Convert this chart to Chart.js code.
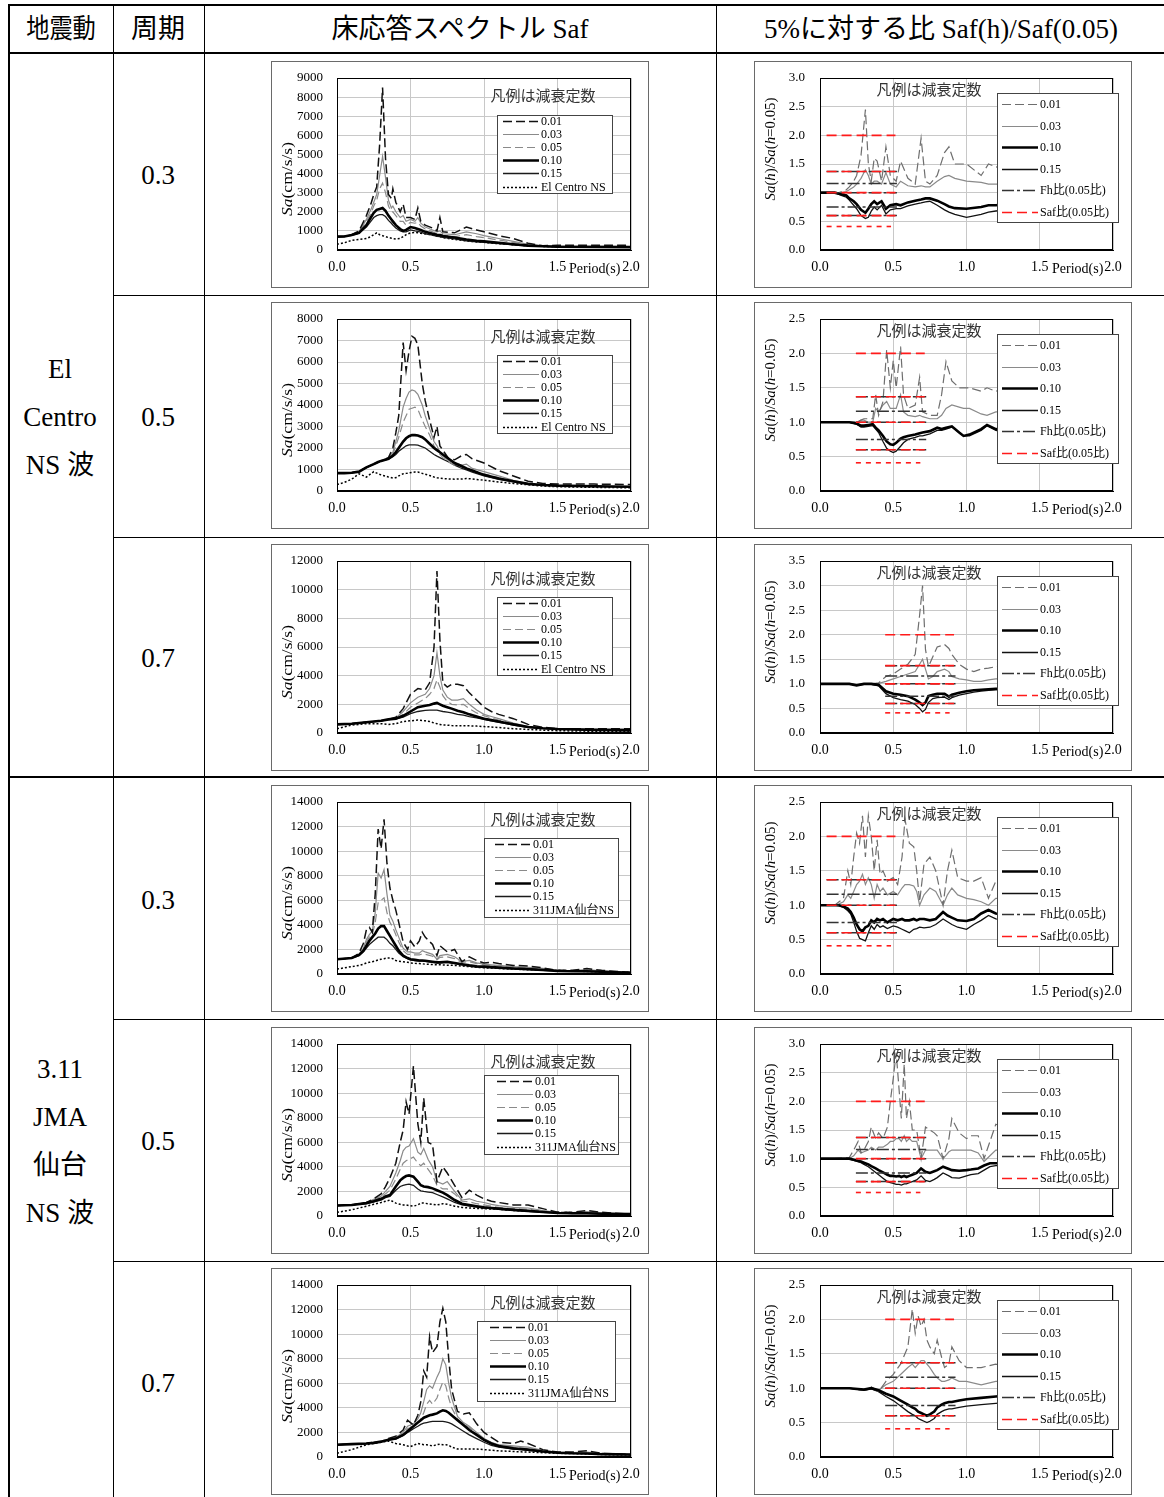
<!DOCTYPE html>
<html lang="ja">
<head>
<meta charset="utf-8">
<title>床応答スペクトル</title>
<script src="https://cdn.jsdelivr.net/npm/chart.js@4.4.1/dist/chart.umd.min.js"></script>
<style>
  html, body { margin: 0; padding: 0; background: #fff; }
  body { position: relative; width: 1164px; height: 1497px; overflow: hidden;
         font-family: "Liberation Serif", "Noto Sans CJK JP", serif; color: #000; }
  .rule { position: absolute; background: #000; }
  .cell { position: absolute; transform: translate(-50%, -50%); white-space: nowrap; font-size: 27px; line-height: 1; }
  canvas { position: absolute; }
</style>
</head>
<body>
<!-- table rules -->
<div class="rule" style="left:8px;top:4px;width:1156px;height:2px"></div>
<div class="rule" style="left:8px;top:52px;width:1156px;height:2px"></div>
<div class="rule" style="left:8px;top:4px;width:2px;height:1493px"></div>
<div class="rule" style="left:113px;top:4px;width:1px;height:1493px"></div>
<div class="rule" style="left:204px;top:4px;width:1px;height:1493px"></div>
<div class="rule" style="left:716px;top:4px;width:1px;height:1493px"></div>
<div class="rule" style="left:113px;top:295px;width:1051px;height:1px"></div>
<div class="rule" style="left:113px;top:537px;width:1051px;height:1px"></div>
<div class="rule" style="left:8px;top:776px;width:1156px;height:2px"></div>
<div class="rule" style="left:113px;top:1019px;width:1051px;height:1px"></div>
<div class="rule" style="left:113px;top:1261px;width:1051px;height:1px"></div>

<!-- header -->
<div class="cell" style="left:61px;top:29px;transform:translate(-50%,-50%) scaleX(0.86)">地震動</div>
<div class="cell" style="left:158px;top:29px">周期</div>
<div class="cell" style="left:460px;top:29px">床応答スペクトル Saf</div>
<div class="cell" style="left:941px;top:29px">5%に対する比 Saf(h)/Saf(0.05)</div>

<!-- earthquake column -->
<div class="cell" style="left:60px;top:369px">El</div>
<div class="cell" style="left:60px;top:417px">Centro</div>
<div class="cell" style="left:60px;top:465px">NS 波</div>
<div class="cell" style="left:60px;top:1069px">3.11</div>
<div class="cell" style="left:60px;top:1117px">JMA</div>
<div class="cell" style="left:60px;top:1165px">仙台</div>
<div class="cell" style="left:60px;top:1213px">NS 波</div>

<!-- period column -->
<div class="cell" style="left:158px;top:175px">0.3</div>
<div class="cell" style="left:158px;top:417px">0.5</div>
<div class="cell" style="left:158px;top:658px">0.7</div>
<div class="cell" style="left:158px;top:900px">0.3</div>
<div class="cell" style="left:158px;top:1141px">0.5</div>
<div class="cell" style="left:158px;top:1383px">0.7</div>

<script>
// ---- common labels / levels ----
const periodTicks = [0, 0.5, 1.0, 1.5, 2.0];
const dampingLabels = ['0.01', '0.03', '0.05', '0.10', '0.15'];
const ratioLabels = ['0.01', '0.03', '0.10', '0.15', 'Fh比(0.05比)', 'Saf比(0.05比)'];
const targetPeriods = [0.3, 0.5, 0.7];
const fhLevels = [1.37, 1.16, 1.0, 0.75, 0.6];
const safLevels = [2.0, 1.37, 1.0, 0.6, 0.41];

// ---- El Centro NS, T=0.3 : floor spectrum ----
const tEc03 = [0, 0.05, 0.1, 0.15, 0.2, 0.23, 0.25, 0.27, 0.29, 0.31, 0.33, 0.35, 0.37, 0.38, 0.4, 0.43, 0.45, 0.47, 0.5, 0.53, 0.55, 0.57, 0.6, 0.65, 0.68, 0.7, 0.72, 0.8, 0.88, 0.95, 1.0, 1.1, 1.2, 1.3, 1.4, 1.5, 1.75, 2.0];
const sEc03_01 = [700, 710, 800, 1000, 1800, 2400, 2900, 3300, 5500, 8500, 4800, 2900, 2700, 3200, 2500, 2000, 2400, 1700, 1700, 1600, 2200, 1500, 1300, 1150, 1000, 1700, 950, 900, 1200, 1050, 950, 750, 600, 350, 220, 250, 250, 250];
const sEc03_03 = [700, 710, 800, 950, 1600, 2100, 2500, 2900, 3900, 4900, 3800, 2600, 2200, 2300, 2000, 1700, 1800, 1500, 1600, 1500, 1700, 1400, 1200, 1050, 950, 1000, 850, 800, 950, 850, 750, 600, 450, 300, 200, 200, 200, 180];
const sEc03_05 = [700, 710, 800, 950, 1500, 1900, 2300, 2600, 3200, 3500, 3000, 2300, 2000, 2000, 1800, 1500, 1500, 1300, 1450, 1400, 1450, 1250, 1100, 950, 850, 850, 780, 700, 800, 700, 650, 520, 400, 280, 200, 180, 180, 170];
const sEc03_10 = [700, 710, 780, 900, 1300, 1700, 1950, 2100, 2150, 2200, 2050, 1800, 1600, 1500, 1300, 1100, 1000, 1050, 1200, 1150, 1100, 1050, 950, 850, 800, 780, 730, 650, 550, 480, 450, 380, 300, 230, 200, 170, 160, 150];
const sEc03_15 = [700, 710, 770, 880, 1200, 1500, 1700, 1800, 1850, 1850, 1750, 1550, 1400, 1300, 1150, 1000, 950, 950, 1050, 1000, 980, 930, 850, 780, 720, 700, 660, 580, 480, 420, 400, 340, 270, 220, 190, 170, 150, 140];
const gEc03 = [300, 380, 500, 550, 600, 700, 800, 900, 800, 750, 700, 650, 620, 600, 580, 600, 700, 800, 900, 920, 900, 870, 850, 780, 720, 700, 650, 550, 480, 420, 400, 330, 280, 220, 190, 170, 150, 150];

// ---- El Centro NS, T=0.3 : ratio ----
const tEcR03 = [0, 0.1, 0.13, 0.15, 0.18, 0.2, 0.23, 0.25, 0.28, 0.31, 0.33, 0.35, 0.37, 0.39, 0.42, 0.45, 0.48, 0.52, 0.55, 0.6, 0.65, 0.69, 0.72, 0.75, 0.8, 0.85, 0.88, 0.92, 1.0, 1.1, 1.15, 1.2, 1.3, 1.5, 2.0];
const rEc03_01 = [1, 1, 1, 1.02, 1.05, 1.1, 1.2, 1.3, 1.65, 2.45, 1.5, 1.2, 1.6, 1.55, 1.2, 1.8, 1.3, 1.2, 1.55, 1.25, 1.15, 1.95, 1.2, 1.15, 1.3, 1.7, 1.8, 1.5, 1.5, 1.3, 1.5, 1.45, 1.4, 1.4, 1.3];
const rEc03_03 = [1, 1, 1, 1, 1.02, 1.05, 1.1, 1.15, 1.25, 1.4, 1.3, 1.15, 1.2, 1.2, 1.15, 1.35, 1.15, 1.1, 1.2, 1.12, 1.1, 1.12, 1.1, 1.1, 1.2, 1.28, 1.3, 1.25, 1.2, 1.18, 1.15, 1.15, 1.15, 1.15, 1.1];
const rEc03_10 = [1, 1, 0.98, 0.97, 0.95, 0.9, 0.85, 0.8, 0.7, 0.65, 0.72, 0.8, 0.85, 0.8, 0.85, 0.72, 0.78, 0.8, 0.78, 0.83, 0.86, 0.88, 0.9, 0.9, 0.86, 0.8, 0.76, 0.73, 0.72, 0.75, 0.78, 0.78, 0.8, 0.8, 0.82];
const rEc03_15 = [1, 1, 0.97, 0.95, 0.92, 0.87, 0.78, 0.72, 0.6, 0.55, 0.57, 0.68, 0.75, 0.7, 0.78, 0.63, 0.7, 0.72, 0.72, 0.77, 0.8, 0.82, 0.84, 0.85, 0.78, 0.7, 0.66, 0.62, 0.57, 0.62, 0.66, 0.68, 0.7, 0.72, 0.75];

// ---- El Centro NS, T=0.5 ----
const tEc05 = [0, 0.05, 0.1, 0.15, 0.2, 0.25, 0.28, 0.3, 0.35, 0.38, 0.4, 0.42, 0.45, 0.47, 0.49, 0.51, 0.53, 0.55, 0.58, 0.6, 0.63, 0.66, 0.68, 0.7, 0.72, 0.76, 0.8, 0.85, 0.88, 0.92, 1.0, 1.1, 1.2, 1.3, 1.4, 1.5, 1.75, 2.0];
const sEc05_01 = [830, 830, 850, 900, 1100, 1250, 1350, 1400, 1550, 2000, 2700, 3500, 6900, 5600, 6500, 7200, 7100, 6800, 5000, 4200, 3300, 2500, 3000, 2100, 1900, 1500, 1450, 1650, 1700, 1500, 1300, 950, 700, 450, 350, 320, 320, 300];
const sEc05_03 = [830, 830, 850, 900, 1100, 1250, 1350, 1400, 1550, 1800, 2300, 2800, 3900, 4300, 4600, 4700, 4650, 4500, 4000, 3500, 2900, 2300, 2100, 1800, 1650, 1400, 1300, 1200, 1250, 1050, 900, 700, 500, 350, 280, 250, 220, 200];
const sEc05_05 = [830, 830, 850, 900, 1100, 1250, 1350, 1400, 1500, 1700, 2100, 2500, 3200, 3500, 3800, 3850, 3900, 3800, 3300, 3000, 2600, 2100, 1900, 1700, 1550, 1350, 1200, 1100, 1100, 950, 800, 620, 450, 320, 260, 230, 210, 200];
const sEc05_10 = [830, 830, 850, 900, 1100, 1250, 1350, 1400, 1500, 1650, 1800, 2000, 2300, 2450, 2550, 2600, 2600, 2580, 2500, 2400, 2200, 2000, 1900, 1800, 1700, 1500, 1300, 1150, 1050, 950, 750, 580, 450, 330, 280, 250, 220, 200];
const sEc05_15 = [830, 830, 850, 900, 1100, 1250, 1350, 1400, 1480, 1600, 1700, 1850, 2000, 2100, 2150, 2150, 2150, 2130, 2050, 2000, 1850, 1700, 1620, 1550, 1480, 1350, 1200, 1050, 980, 880, 700, 540, 420, 320, 270, 240, 210, 190];
const gEc05 = [300, 400, 550, 800, 650, 900, 800, 750, 650, 600, 620, 700, 800, 820, 840, 860, 880, 880, 820, 780, 720, 650, 620, 600, 580, 560, 550, 560, 580, 560, 500, 420, 350, 290, 230, 200, 170, 150];

const tEcR05 = [0, 0.1, 0.2, 0.25, 0.28, 0.3, 0.33, 0.36, 0.38, 0.4, 0.43, 0.455, 0.48, 0.5, 0.52, 0.55, 0.57, 0.6, 0.65, 0.68, 0.7, 0.75, 0.8, 0.83, 0.86, 0.9, 0.95, 0.98, 1.02, 1.1, 1.14, 1.2, 1.3, 1.5, 2.0];
const rEc05_01 = [1, 1, 1, 1.0, 1.03, 1.05, 1.05, 1.05, 1.4, 1.1, 1.3, 2.05, 1.5, 1.9, 1.5, 2.1, 1.4, 1.2, 1.25, 1.65, 1.15, 1.1, 1.1, 1.4, 1.88, 1.6, 1.5, 1.5, 1.5, 1.45, 1.5, 1.45, 1.5, 1.45, 1.4];
const rEc05_03 = [1, 1, 1, 1.0, 1.03, 1.03, 1.0, 1.0, 1.2, 1.15, 1.25, 1.3, 1.2, 1.2, 1.2, 1.4, 1.15, 1.1, 1.08, 1.1, 1.08, 1.05, 1.05, 1.1, 1.2, 1.25, 1.22, 1.2, 1.2, 1.12, 1.1, 1.15, 1.15, 1.15, 1.1];
const rEc05_10 = [1, 1, 1, 0.98, 0.95, 0.95, 0.96, 0.97, 0.92, 0.88, 0.8, 0.72, 0.68, 0.67, 0.7, 0.76, 0.78, 0.8, 0.82, 0.84, 0.85, 0.87, 0.92, 0.9, 0.92, 0.94, 0.85, 0.8, 0.82, 0.9, 0.96, 0.9, 0.85, 0.88, 0.9];
const rEc05_15 = [1, 1, 1, 0.97, 0.93, 0.93, 0.94, 0.95, 0.9, 0.85, 0.72, 0.62, 0.58, 0.56, 0.58, 0.65, 0.7, 0.75, 0.78, 0.8, 0.8, 0.83, 0.88, 0.88, 0.9, 0.93, 0.85, 0.8, 0.8, 0.88, 0.95, 0.88, 0.84, 0.86, 0.88];

// ---- El Centro NS, T=0.7 ----
const tEc07 = [0, 0.1, 0.2, 0.3, 0.35, 0.4, 0.45, 0.5, 0.55, 0.6, 0.63, 0.66, 0.68, 0.7, 0.72, 0.75, 0.78, 0.82, 0.86, 0.9, 0.95, 1.0, 1.05, 1.1, 1.15, 1.2, 1.3, 1.4, 1.5, 1.75, 2.0];
const sEc07_01 = [600, 650, 750, 850, 950, 1100, 1700, 2700, 3100, 3000, 3500, 6000, 11300, 6500, 3500, 3200, 3400, 3400, 3300, 2800, 2300, 1800, 1500, 1300, 1150, 1000, 600, 400, 300, 300, 300];
const sEc07_03 = [600, 650, 750, 850, 950, 1050, 1500, 2100, 2500, 2700, 3100, 4000, 5600, 4000, 3000, 2500, 2300, 2300, 2400, 2000, 1600, 1300, 1150, 1000, 850, 700, 450, 350, 300, 250, 250];
const sEc07_05 = [600, 650, 750, 850, 950, 1000, 1300, 1800, 2100, 2400, 2700, 3100, 3700, 3200, 2600, 2200, 2000, 1950, 2000, 1700, 1400, 1200, 1050, 900, 780, 650, 420, 330, 280, 220, 200];
const sEc07_10 = [600, 650, 750, 850, 950, 1000, 1200, 1500, 1800, 1900, 1950, 2050, 2100, 2000, 1900, 1800, 1700, 1550, 1450, 1300, 1150, 1000, 900, 800, 700, 600, 420, 330, 280, 220, 200];
const sEc07_15 = [600, 650, 750, 850, 930, 980, 1100, 1350, 1500, 1580, 1600, 1600, 1600, 1550, 1500, 1450, 1400, 1300, 1250, 1150, 1050, 950, 850, 750, 650, 550, 400, 320, 270, 200, 150];
const gEc07 = [300, 550, 650, 650, 600, 650, 800, 850, 900, 850, 800, 700, 650, 600, 550, 550, 520, 500, 500, 500, 480, 450, 420, 380, 340, 300, 250, 200, 160, 120, 100];

const tEcR07 = [0, 0.1, 0.2, 0.25, 0.3, 0.35, 0.4, 0.45, 0.5, 0.55, 0.6, 0.65, 0.68, 0.7, 0.72, 0.74, 0.77, 0.8, 0.85, 0.88, 0.9, 0.95, 1.0, 1.05, 1.1, 1.15, 1.2, 1.3, 1.5, 2.0];
const rEc07_01 = [1, 1, 1, 0.98, 1.0, 1.0, 1.02, 1.15, 1.2, 1.3, 1.4, 1.6, 2.4, 3.0, 1.7, 1.35, 1.55, 1.75, 1.8, 1.72, 1.6, 1.4, 1.3, 1.25, 1.3, 1.32, 1.35, 1.35, 1.35, 1.3];
const rEc07_03 = [1, 1, 1, 0.98, 1.0, 1.0, 1.01, 1.05, 1.1, 1.15, 1.2, 1.25, 1.4, 1.5, 1.3, 1.1, 1.15, 1.25, 1.3, 1.25, 1.15, 1.1, 1.08, 1.05, 1.05, 1.08, 1.1, 1.1, 1.1, 1.1];
const rEc07_10 = [1, 1, 1, 0.97, 1.0, 1.0, 0.98, 0.85, 0.8, 0.78, 0.75, 0.68, 0.62, 0.57, 0.62, 0.75, 0.78, 0.8, 0.8, 0.74, 0.78, 0.82, 0.85, 0.87, 0.88, 0.89, 0.9, 0.9, 0.92, 0.93];
const rEc07_15 = [1, 1, 1, 0.97, 0.99, 0.99, 0.96, 0.8, 0.72, 0.68, 0.65, 0.58, 0.5, 0.43, 0.48, 0.62, 0.7, 0.72, 0.73, 0.68, 0.72, 0.77, 0.8, 0.83, 0.85, 0.87, 0.88, 0.89, 0.9, 0.92];

// ---- 3.11 JMA Sendai NS, T=0.3 ----
const tJm03 = [0, 0.1, 0.15, 0.18, 0.2, 0.22, 0.24, 0.26, 0.28, 0.3, 0.32, 0.34, 0.36, 0.38, 0.4, 0.42, 0.45, 0.48, 0.5, 0.53, 0.56, 0.58, 0.6, 0.65, 0.68, 0.7, 0.75, 0.8, 0.85, 0.9, 0.95, 1.0, 1.05, 1.1, 1.2, 1.3, 1.4, 1.5, 1.6, 1.7, 1.8, 2.0];
const sJm03_01 = [1200, 1300, 1700, 2500, 3600, 3800, 3400, 6500, 11800, 10200, 12600, 9000, 7000, 6000, 5200, 4200, 2600, 2000, 2700, 2200, 2700, 3400, 3000, 2400, 1500, 2300, 1800, 2000, 1000, 1400, 1100, 900, 950, 850, 700, 650, 500, 300, 300, 450, 300, 120];
const sJm03_03 = [1200, 1300, 1600, 2100, 2800, 3200, 3500, 5000, 8200, 7800, 8500, 6500, 4800, 4300, 3600, 3000, 2100, 1800, 1800, 1700, 1700, 1900, 1800, 1600, 1200, 1500, 1600, 1400, 1000, 1100, 900, 800, 750, 700, 600, 550, 450, 300, 280, 350, 250, 120];
const sJm03_05 = [1200, 1300, 1600, 2000, 2600, 3000, 3200, 4200, 5800, 6000, 6200, 5000, 4200, 3800, 3200, 2600, 1900, 1600, 1600, 1550, 1550, 1650, 1600, 1450, 1150, 1350, 1400, 1250, 950, 1000, 850, 750, 700, 650, 550, 500, 400, 300, 260, 300, 220, 110];
const sJm03_10 = [1200, 1300, 1550, 1900, 2300, 2700, 3000, 3300, 3700, 3900, 3900, 3500, 3100, 2700, 2300, 1900, 1500, 1300, 1200, 1150, 1100, 1100, 1080, 1000, 950, 950, 1000, 900, 800, 700, 620, 600, 560, 520, 450, 400, 330, 250, 220, 220, 180, 100];
const sJm03_15 = [1200, 1300, 1500, 1800, 2100, 2400, 2600, 2800, 3000, 3000, 3000, 2800, 2500, 2300, 2000, 1700, 1400, 1250, 1150, 1100, 1050, 1050, 1020, 950, 900, 900, 950, 850, 750, 650, 580, 550, 520, 480, 420, 370, 300, 250, 210, 200, 170, 100];
const gJm03 = [400, 600, 700, 800, 900, 950, 1000, 1050, 1150, 1200, 1250, 1300, 1300, 1250, 1100, 1050, 1000, 950, 900, 870, 850, 830, 800, 770, 750, 750, 720, 700, 650, 600, 550, 500, 480, 450, 400, 350, 320, 300, 250, 200, 180, 150];

const tJmR03 = [0, 0.1, 0.13, 0.16, 0.19, 0.21, 0.23, 0.25, 0.27, 0.29, 0.31, 0.33, 0.35, 0.37, 0.39, 0.41, 0.43, 0.46, 0.5, 0.53, 0.56, 0.58, 0.61, 0.64, 0.66, 0.68, 0.71, 0.75, 0.79, 0.84, 0.87, 0.9, 0.94, 1.0, 1.05, 1.1, 1.15, 1.2, 1.3, 1.5, 2.0];
const rJm03_01 = [1, 1, 1.05, 1.1, 1.5, 1.3, 1.7, 2.05, 1.9, 2.3, 1.7, 2.3, 2.0, 1.5, 1.95, 1.45, 1.5, 1.35, 1.4, 1.3, 1.7, 2.25, 1.9, 1.85, 1.5, 1.05, 1.6, 1.7, 1.5, 1.0, 1.5, 1.8, 1.4, 1.35, 1.35, 1.4, 1.1, 1.35, 1.3, 1.3, 1.3];
const rJm03_03 = [1, 1, 1.02, 1.05, 1.15, 1.1, 1.2, 1.3, 1.35, 1.45, 1.3, 1.4, 1.3, 1.1, 1.3, 1.2, 1.25, 1.15, 1.2, 1.15, 1.25, 1.3, 1.3, 1.28, 1.2, 1.0, 1.15, 1.25, 1.2, 1.0, 1.15, 1.25, 1.15, 1.1, 1.08, 1.05, 1.0, 1.1, 1.1, 1.1, 1.1];
const rJm03_10 = [1, 1, 1.0, 0.98, 0.95, 0.9, 0.82, 0.72, 0.65, 0.62, 0.68, 0.7, 0.78, 0.75, 0.8, 0.78, 0.8, 0.75, 0.8, 0.78, 0.8, 0.78, 0.78, 0.8, 0.78, 0.8, 0.8, 0.78, 0.8, 0.9, 0.85, 0.82, 0.78, 0.77, 0.8, 0.88, 0.93, 0.88, 0.85, 0.85, 0.85];
const rJm03_15 = [1, 1, 0.99, 0.97, 0.92, 0.87, 0.75, 0.62, 0.52, 0.5, 0.48, 0.6, 0.7, 0.65, 0.72, 0.68, 0.7, 0.66, 0.7, 0.68, 0.65, 0.63, 0.6, 0.65, 0.66, 0.68, 0.67, 0.68, 0.72, 0.8, 0.76, 0.72, 0.68, 0.65, 0.72, 0.78, 0.85, 0.8, 0.78, 0.78, 0.78];

// ---- 3.11 JMA Sendai NS, T=0.5 ----
const tJm05 = [0, 0.1, 0.2, 0.25, 0.3, 0.33, 0.36, 0.4, 0.43, 0.45, 0.47, 0.49, 0.52, 0.55, 0.57, 0.59, 0.62, 0.65, 0.68, 0.72, 0.75, 0.8, 0.85, 0.9, 0.95, 1.0, 1.05, 1.1, 1.2, 1.3, 1.4, 1.5, 1.6, 1.7, 1.8, 2.0];
const sJm05_01 = [850, 900, 1100, 1400, 1800, 2400, 3100, 4300, 6000, 7000, 9300, 8300, 12200, 7500, 6000, 9600, 6000, 5800, 2800, 4000, 3500, 2500, 1500, 2100, 1700, 1400, 1200, 1100, 900, 900, 600, 300, 300, 450, 300, 150];
const sJm05_03 = [850, 900, 1100, 1350, 1600, 2000, 2400, 3500, 4500, 5300, 5600, 5700, 6300, 5200, 5000, 5500, 4600, 4000, 2800, 2600, 2800, 2000, 1300, 1400, 1200, 1100, 950, 850, 700, 650, 450, 300, 280, 350, 250, 150];
const sJm05_05 = [850, 900, 1100, 1300, 1500, 1800, 2100, 3000, 3800, 4300, 4500, 4600, 4800, 4300, 4100, 4300, 3800, 3300, 2500, 2200, 2200, 1800, 1200, 1150, 1000, 900, 800, 700, 600, 550, 400, 300, 260, 300, 220, 140];
const sJm05_10 = [850, 900, 1050, 1200, 1400, 1600, 1700, 2400, 2900, 3100, 3250, 3300, 3200, 2800, 2500, 2400, 2350, 2250, 2100, 1900, 1700, 1300, 1000, 900, 800, 700, 650, 600, 500, 420, 330, 250, 220, 220, 180, 150];
const sJm05_15 = [850, 900, 1000, 1150, 1300, 1500, 1600, 2100, 2400, 2500, 2550, 2600, 2500, 2200, 2050, 2000, 1950, 1900, 1750, 1550, 1400, 1100, 900, 800, 720, 650, 600, 550, 450, 380, 300, 250, 200, 200, 170, 130];
const gJm05 = [300, 500, 800, 950, 1100, 1200, 1300, 1050, 950, 900, 900, 850, 800, 900, 1050, 1050, 1000, 950, 900, 1000, 950, 800, 700, 650, 620, 600, 570, 550, 450, 400, 350, 300, 270, 250, 200, 150];

const tJmR05 = [0, 0.1, 0.2, 0.23, 0.26, 0.28, 0.3, 0.33, 0.35, 0.38, 0.4, 0.43, 0.46, 0.48, 0.5, 0.52, 0.54, 0.555, 0.575, 0.59, 0.61, 0.63, 0.66, 0.69, 0.72, 0.75, 0.78, 0.8, 0.84, 0.88, 0.9, 0.95, 1.0, 1.03, 1.08, 1.12, 1.16, 1.2, 1.3, 1.5, 2.0];
const rJm05_01 = [1, 1, 1.02, 1.15, 1.3, 1.1, 1.15, 1.3, 1.55, 1.35, 1.45, 1.35, 1.55, 2.0, 2.4, 2.85, 2.2, 1.7, 2.65, 1.7, 2.0, 1.5, 1.5, 1.0, 1.55, 1.5, 1.45, 1.4, 1.0, 1.35, 1.7, 1.45, 1.35, 1.4, 1.4, 1.0, 1.3, 1.6, 1.5, 1.5, 1.4];
const rJm05_03 = [1, 1, 1.0, 1.05, 1.15, 1.1, 1.12, 1.15, 1.2, 1.15, 1.2, 1.2, 1.25, 1.3, 1.3, 1.35, 1.35, 1.3, 1.4, 1.3, 1.35, 1.3, 1.3, 1.0, 1.15, 1.15, 1.15, 1.15, 1.0, 1.12, 1.15, 1.15, 1.15, 1.15, 1.1, 0.95, 1.05, 1.15, 1.15, 1.15, 1.1];
const rJm05_10 = [1, 1, 1.0, 0.98, 0.96, 0.95, 0.93, 0.9, 0.87, 0.83, 0.8, 0.76, 0.72, 0.7, 0.7, 0.69, 0.7, 0.68, 0.7, 0.68, 0.7, 0.72, 0.75, 0.83, 0.77, 0.75, 0.78, 0.8, 0.86, 0.82, 0.8, 0.79, 0.8, 0.81, 0.83, 0.88, 0.92, 0.92, 0.92, 0.93, 0.94];
const rJm05_15 = [1, 1, 0.99, 0.97, 0.95, 0.93, 0.9, 0.86, 0.82, 0.76, 0.72, 0.66, 0.6, 0.58, 0.57, 0.55, 0.55, 0.54, 0.56, 0.56, 0.58, 0.6, 0.63, 0.7, 0.62, 0.6, 0.64, 0.67, 0.75, 0.7, 0.67, 0.66, 0.7, 0.72, 0.74, 0.8, 0.86, 0.88, 0.88, 0.9, 0.92];

// ---- 3.11 JMA Sendai NS, T=0.7 ----
const tJm07 = [0, 0.1, 0.2, 0.25, 0.3, 0.35, 0.4, 0.45, 0.48, 0.5, 0.52, 0.55, 0.57, 0.59, 0.61, 0.63, 0.65, 0.68, 0.7, 0.72, 0.74, 0.76, 0.78, 0.82, 0.86, 0.9, 0.95, 1.0, 1.05, 1.1, 1.2, 1.25, 1.3, 1.4, 1.5, 1.6, 1.7, 1.8, 2.0];
const sJm07_01 = [1000, 1050, 1100, 1200, 1250, 1500, 1700, 2200, 3000, 2800, 2600, 3400, 4500, 7000, 6500, 9800, 8500, 9000, 11000, 12100, 11000, 8000, 5500, 3700, 3500, 3600, 2700, 2000, 1600, 1200, 1100, 1300, 1100, 600, 400, 400, 500, 300, 200];
const sJm07_03 = [1000, 1050, 1100, 1200, 1250, 1450, 1600, 2000, 2500, 2600, 2700, 3100, 3600, 4500, 5500, 5800, 5600, 6500, 7000, 8000, 7500, 6000, 4800, 3300, 2800, 2500, 2000, 1500, 1200, 1000, 900, 850, 800, 550, 400, 350, 400, 250, 200];
const sJm07_05 = [1000, 1050, 1100, 1200, 1250, 1400, 1550, 1900, 2300, 2400, 2500, 2800, 3100, 3600, 4300, 4600, 4300, 4800, 5500, 6100, 5800, 4800, 4000, 3100, 2700, 2400, 1900, 1400, 1100, 900, 800, 750, 700, 500, 380, 330, 350, 230, 200];
const sJm07_10 = [1000, 1050, 1100, 1150, 1250, 1400, 1500, 1800, 2100, 2300, 2500, 2800, 3000, 3200, 3300, 3400, 3450, 3550, 3700, 3800, 3750, 3600, 3400, 3000, 2600, 2200, 1800, 1400, 1100, 900, 700, 650, 600, 450, 350, 300, 280, 230, 200];
const sJm07_15 = [1000, 1050, 1100, 1150, 1250, 1380, 1480, 1750, 2000, 2150, 2300, 2500, 2650, 2750, 2800, 2850, 2900, 2900, 2900, 2900, 2850, 2800, 2700, 2400, 2100, 1800, 1500, 1200, 950, 800, 650, 600, 550, 430, 350, 300, 270, 220, 180];
const gJm07 = [300, 600, 1000, 1100, 1200, 1300, 1100, 1000, 900, 850, 950, 1100, 1050, 1000, 1000, 950, 900, 1000, 1050, 1000, 1000, 950, 800, 650, 650, 650, 650, 600, 550, 500, 450, 420, 400, 350, 300, 280, 250, 200, 150];

const tJmR07 = [0, 0.1, 0.2, 0.3, 0.35, 0.4, 0.45, 0.5, 0.55, 0.6, 0.63, 0.65, 0.67, 0.69, 0.71, 0.73, 0.75, 0.78, 0.8, 0.83, 0.85, 0.88, 0.9, 0.95, 1.0, 1.1, 1.2, 1.3, 1.5, 2.0];
const rJm07_01 = [1, 1, 1.0, 0.97, 1.02, 0.95, 1.1, 1.2, 1.35, 1.6, 2.15, 1.8, 2.05, 1.9, 2.0, 1.7, 1.6, 1.5, 1.7, 1.45, 1.3, 1.35, 1.6, 1.4, 1.3, 1.3, 1.35, 1.3, 1.3, 1.3];
const rJm07_03 = [1, 1, 1.0, 0.97, 1.01, 0.97, 1.05, 1.1, 1.2, 1.3, 1.35, 1.3, 1.35, 1.4, 1.4, 1.35, 1.3, 1.2, 1.15, 1.1, 1.1, 1.12, 1.15, 1.1, 1.1, 1.05, 1.1, 1.1, 1.1, 1.1];
const rJm07_10 = [1, 1, 1.0, 0.98, 1.0, 0.97, 0.92, 0.88, 0.82, 0.76, 0.72, 0.7, 0.66, 0.64, 0.62, 0.6, 0.62, 0.66, 0.72, 0.76, 0.78, 0.8, 0.8, 0.82, 0.84, 0.86, 0.88, 0.9, 0.9, 0.92];
const rJm07_15 = [1, 1, 1.0, 0.97, 0.99, 0.95, 0.88, 0.82, 0.74, 0.66, 0.62, 0.6, 0.56, 0.54, 0.52, 0.5, 0.52, 0.56, 0.62, 0.66, 0.68, 0.7, 0.7, 0.72, 0.74, 0.76, 0.78, 0.8, 0.82, 0.85];

// ---- layout ----
const FRAME_W = 378, FRAME_H = 227;
const PLOT_LEFT = 66, PLOT_TOP = 17, PLOT_BOTTOM = 189;
const rowTops = [61, 302, 544, 785, 1027, 1268];
const SERIF = '"Liberation Serif", "Noto Sans CJK JP", serif';

Chart.defaults.font.family = SERIF;
Chart.defaults.color = '#000';

const specStyles = [
  { color: '#111', width: 1.5, dash: [9, 4] },     // 0.01
  { color: '#8a8a8a', width: 1.2, dash: [] },      // 0.03
  { color: '#8a8a8a', width: 1.2, dash: [8, 4] },  // 0.05
  { color: '#000', width: 2.6, dash: [] },         // 0.10
  { color: '#1a1a1a', width: 1.3, dash: [] },      // 0.15
  { color: '#000', width: 1.5, dash: [2, 2] }      // input wave
];
const ratioStyles = [
  { color: '#6e6e6e', width: 1.2, dash: [9, 4] },
  { color: '#8a8a8a', width: 1.2, dash: [] },
  { color: '#000', width: 2.6, dash: [] },
  { color: '#111', width: 1.3, dash: [] },
  { color: '#333', width: 1.5, dash: [12, 3, 3, 3] },
  { color: '#ff1a1a', width: 1.6, dash: [10, 5] }
];

const specCharts = [
  { top: rowTops[0], T: tEc03, s: [sEc03_01, sEc03_03, sEc03_05, sEc03_10, sEc03_15, gEc03], ymax: 9000, ystep: 1000, wave: 'El Centro NS', legend: [226, 54, 115, 78, 232] },
  { top: rowTops[1], T: tEc05, s: [sEc05_01, sEc05_03, sEc05_05, sEc05_10, sEc05_15, gEc05], ymax: 8000, ystep: 1000, wave: 'El Centro NS', legend: [226, 53, 115, 78, 232] },
  { top: rowTops[2], T: tEc07, s: [sEc07_01, sEc07_03, sEc07_05, sEc07_10, sEc07_15, gEc07], ymax: 12000, ystep: 2000, wave: 'El Centro NS', legend: [226, 53, 115, 78, 232] },
  { top: rowTops[3], T: tJm03, s: [sJm03_01, sJm03_03, sJm03_05, sJm03_10, sJm03_15, gJm03], ymax: 14000, ystep: 2000, wave: '311JMA仙台NS', legend: [213, 53, 134, 79, 224] },
  { top: rowTops[4], T: tJm05, s: [sJm05_01, sJm05_03, sJm05_05, sJm05_10, sJm05_15, gJm05], ymax: 14000, ystep: 2000, wave: '311JMA仙台NS', legend: [213, 48, 134, 79, 226] },
  { top: rowTops[5], T: tJm07, s: [sJm07_01, sJm07_03, sJm07_05, sJm07_10, sJm07_15, gJm07], ymax: 14000, ystep: 2000, wave: '311JMA仙台NS', legend: [206, 53, 138, 80, 219] }
];

const ratioCharts = [
  { top: rowTops[0], T: tEcR03, s: [rEc03_01, rEc03_03, rEc03_10, rEc03_15], ymax: 3.0, target: targetPeriods[0] },
  { top: rowTops[1], T: tEcR05, s: [rEc05_01, rEc05_03, rEc05_10, rEc05_15], ymax: 2.5, target: targetPeriods[1] },
  { top: rowTops[2], T: tEcR07, s: [rEc07_01, rEc07_03, rEc07_10, rEc07_15], ymax: 3.5, target: targetPeriods[2] },
  { top: rowTops[3], T: tJmR03, s: [rJm03_01, rJm03_03, rJm03_10, rJm03_15], ymax: 2.5, target: targetPeriods[0] },
  { top: rowTops[4], T: tJmR05, s: [rJm05_01, rJm05_03, rJm05_10, rJm05_15], ymax: 3.0, target: targetPeriods[1] },
  { top: rowTops[5], T: tJmR07, s: [rJm07_01, rJm07_03, rJm07_10, rJm07_15], ymax: 2.5, target: targetPeriods[2] }
];

// rotated axis title, parts = [[text, italic], ...], stretched to a given length
function drawVertical(ctx, parts, x, y, size, length) {
  ctx.save();
  ctx.translate(x, y);
  ctx.rotate(-Math.PI / 2);
  const fontOf = p => (p[1] ? 'italic ' : '') + size + 'px ' + SERIF;
  let total = 0;
  parts.forEach(p => { ctx.font = fontOf(p); total += ctx.measureText(p[0]).width; });
  ctx.scale(length / total, 1);
  ctx.textBaseline = 'middle';
  ctx.textAlign = 'left';
  ctx.fillStyle = '#000';
  let cx = -total / 2;
  parts.forEach(p => { ctx.font = fontOf(p); ctx.fillText(p[0], cx, 0); cx += ctx.measureText(p[0]).width; });
  ctx.restore();
}

function drawLegend(ctx, box, items) {
  ctx.save();
  ctx.fillStyle = '#fff';
  ctx.fillRect(box.x, box.y, box.w, box.h);
  ctx.setLineDash([]);
  ctx.lineWidth = 1;
  ctx.strokeStyle = '#444';
  ctx.strokeRect(box.x + 0.5, box.y + 0.5, box.w, box.h);
  items.forEach((it, i) => {
    const y = Math.round(box.y + box.first + i * box.gap) + 0.5;
    ctx.beginPath();
    ctx.strokeStyle = it.style.color;
    ctx.lineWidth = it.style.width;
    ctx.setLineDash(it.style.dash);
    ctx.moveTo(box.ls, y);
    ctx.lineTo(box.ls + 36, y);
    ctx.stroke();
    ctx.setLineDash([]);
    ctx.fillStyle = '#000';
    ctx.font = '12px ' + SERIF;
    ctx.textAlign = 'left';
    ctx.textBaseline = 'middle';
    ctx.fillText(it.label, box.ls + 38, y);
  });
  ctx.restore();
}

function decoPlugin(d) {
  return {
    id: 'deco',
    afterDraw(chart) {
      const ctx = chart.ctx, a = chart.chartArea;
      ctx.save();
      ctx.setLineDash([]);
      ctx.lineWidth = 1;
      ctx.strokeStyle = '#000';
      ctx.strokeRect(Math.round(a.left) + 0.5, Math.round(a.top) + 0.5,
                     Math.round(a.right - a.left) - 1, Math.round(a.bottom - a.top) - 1);
      ctx.strokeStyle = '#6a6a6a';
      ctx.strokeRect(0.5, 0.5, chart.width - 1, chart.height - 1);

      drawVertical(ctx, d.yTitle, 17, d.yTitleY, 14, d.yTitleLen);

      ctx.font = '14px ' + SERIF;
      ctx.fillStyle = '#000';
      ctx.textAlign = 'left';
      ctx.textBaseline = 'middle';
      ctx.fillText('Period(s)', 298, 208);

      ctx.font = '15px "Noto Sans CJK JP"';
      ctx.fillStyle = '#333';
      ctx.textAlign = 'center';
      ctx.fillText('凡例は減衰定数', d.noteX, d.noteY);
      ctx.restore();

      drawLegend(ctx, d.box, d.items);
    }
  };
}

function lineSet(xs, ys, style, order) {
  return {
    data: ys.map((v, k) => ({ x: xs[k], y: v })),
    borderColor: style.color,
    borderWidth: style.width,
    borderDash: style.dash,
    pointRadius: 0,
    tension: 0,
    fill: false,
    order: order
  };
}

// keep tick-label overhang out of the layout so the plot box sits where it should
function noOverhang(s) {
  s.paddingTop = 0; s.paddingBottom = 0; s.paddingLeft = 0; s.paddingRight = 0;
}

function buildChart(left, top, plotRight, ymax, ystep, isRatio, datasets, deco) {
  const cv = document.createElement('canvas');
  cv.width = FRAME_W; cv.height = FRAME_H;
  cv.style.left = left + 'px'; cv.style.top = top + 'px';
  cv.style.width = FRAME_W + 'px'; cv.style.height = FRAME_H + 'px';
  document.body.appendChild(cv);
  const grid = { color: '#c8c8c8', lineWidth: 1, drawTicks: false };
  const padding = { top: PLOT_TOP, right: FRAME_W - plotRight, left: 0, bottom: 0 };
  const chart = new Chart(cv, {
    type: 'line',
    data: { datasets: datasets },
    options: {
      responsive: false,
      animation: false,
      devicePixelRatio: 1,
      events: [],
      layout: { padding: padding },
      plugins: { legend: { display: false }, tooltip: { enabled: false } },
      scales: {
        x: {
          type: 'linear', min: 0, max: 2,
          afterBuildTicks: s => { s.ticks = periodTicks.map(v => ({ value: v })); },
          afterFit: s => { s.height = FRAME_H - PLOT_BOTTOM; noOverhang(s); },
          ticks: { callback: v => v.toFixed(1), font: { size: 14 }, color: '#000', padding: 9, autoSkip: false, maxRotation: 0 },
          grid: grid,
          border: { color: '#000' }
        },
        y: {
          min: 0, max: ymax,
          afterFit: s => { s.width = PLOT_LEFT; noOverhang(s); },
          ticks: { stepSize: ystep, callback: v => isRatio ? v.toFixed(1) : String(v), font: { size: 13 }, color: '#000', padding: isRatio ? 15 : 14, autoSkip: false },
          grid: grid,
          border: { color: '#000' }
        }
      }
    },
    plugins: [decoPlugin(deco)]
  });
  // safety net: if the box still drifted, correct the padding once
  const a = chart.chartArea;
  const dTop = a.top - PLOT_TOP, dRight = a.right - plotRight;
  if (Math.abs(dTop) > 0.5 || Math.abs(dRight) > 0.5) {
    const p = chart.config.options.layout.padding;
    p.top = Math.max(0, p.top - dTop);
    p.right = Math.max(0, p.right + dRight);
    chart.update();
  }
}

// left column: floor response spectra
specCharts.forEach(c => {
  const sets = c.s.map((vals, i) => lineSet(c.T, vals, specStyles[i], i === 3 ? 1 : 2));
  const items = dampingLabels.concat([c.wave]).map((lab, i) => ({ label: lab, style: specStyles[i] }));
  const [bx, by, bw, bh, ls] = c.legend;
  buildChart(271, c.top, 360, c.ymax, c.ystep, false, sets, {
    yTitle: [['Sa', true], ['(cm/s/s)', false]], yTitleY: 118, yTitleLen: 74,
    noteX: 272, noteY: 34,
    box: { x: bx, y: by, w: bw, h: bh, ls: ls, first: 6, gap: 13.1 },
    items: items
  });
});

// right column: ratio to h=0.05
ratioCharts.forEach(c => {
  const curves = c.s.map((vals, i) => lineSet(c.T, vals, ratioStyles[i], i === 2 ? 1 : 2));
  const lo = c.target - 0.255, hi = c.target + 0.225;
  const saf = safLevels.map((v, i) => {
    const last = i === safLevels.length - 1;
    const st = last ? Object.assign({}, ratioStyles[5], { dash: [5, 5] }) : ratioStyles[5];
    return lineSet([lo, last ? c.target + 0.185 : c.target + 0.215], [v, v], st, 0);
  });
  const fh = fhLevels.map(v => lineSet([lo, hi], [v, v], ratioStyles[4], 0));
  const items = ratioLabels.map((lab, i) => ({ label: lab, style: ratioStyles[i] }));
  buildChart(754, c.top, 359, c.ymax, 0.5, true, saf.concat(fh, curves), {
    yTitle: [['Sa', true], ['(', false], ['h', true], [')/', false], ['Sa', true], ['(', false], ['h', true], ['=0.05)', false]],
    yTitleY: 88, yTitleLen: 103,
    noteX: 175, noteY: 28,
    box: { x: 243, y: 32, w: 121, h: 129, ls: 248, first: 11, gap: 21.5 },
    items: items
  });
});
</script>
</body>
</html>
